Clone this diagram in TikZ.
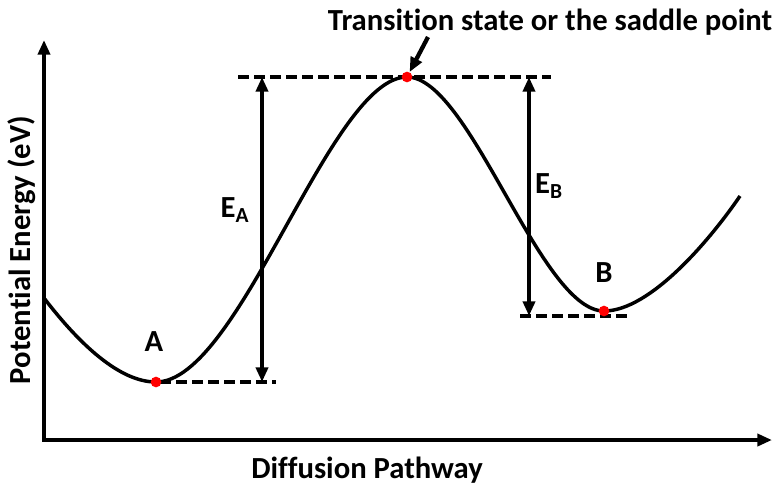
\documentclass[tikz,border=0pt]{standalone}
\usepackage{fontspec}
\setmainfont{Carlito}[Ligatures=NoCommon]
\usepackage{tikz}
\usetikzlibrary{arrows.meta}

\begin{document}
\begin{tikzpicture}[x=0.75pt,y=-0.75pt,>={Triangle[length=11pt,width=9pt]},
  every node/.style={font=\fontsize{23}{27}\selectfont\bfseries},
  dot/.style={circle,fill=red,inner sep=0pt,minimum size=8pt},
  level/.style={line width=3pt,dash pattern=on 8pt off 4pt}]
\useasboundingbox (0,0) rectangle (773,487);
% axes
\draw[line width=3.4pt,->] (44,441) -- (44,40);
\draw[line width=3.4pt,->] (42,440) -- (772,440);
\node[rotate=90] (ylab) at (22,250) {Potential Energy (eV)};
\node (xlab) at (367,470) {Diffusion Pathway};
% energy levels
\draw[level] (238,77) -- (551,77);
\draw[level] (160,382) -- (276,382);
\draw[level] (520,316) -- (627,316);
% potential curve
\draw[line width=2.6pt] (44,298) .. controls (80,345) and (120,382) .. (156,382)
  .. controls (240,382) and (330,77) .. (407,77)
  .. controls (470,77) and (540,311) .. (604,311)
  .. controls (650,311) and (710,240) .. (740,196);
\node[dot] (A) at (156,382) {};
\node[dot] (TS) at (407,77) {};
\node[dot] (B) at (604,311) {};
\node (Alab) at (154,342) {A};
\node (Blab) at (604,273) {B};
% barriers
\coordinate (ea1) at (262,77);
\coordinate (ea2) at (262,382);
\coordinate (eb1) at (529,77);
\coordinate (eb2) at (529,316);
\draw[line width=3pt,<->] (ea1) -- (ea2);
\draw[line width=3pt,<->] (eb1) -- (eb2);
\node (EA) at (235,210) {E\textsubscript{A}};
\node (EB) at (549,186) {E\textsubscript{B}};
% saddle point
\node (TSlab) at (550,22) {Transition state or the saddle point};
\coordinate (ts0) at (428,37);
\draw[line width=3.2pt,->] (ts0) -- (TS);
\end{tikzpicture}
\end{document}
